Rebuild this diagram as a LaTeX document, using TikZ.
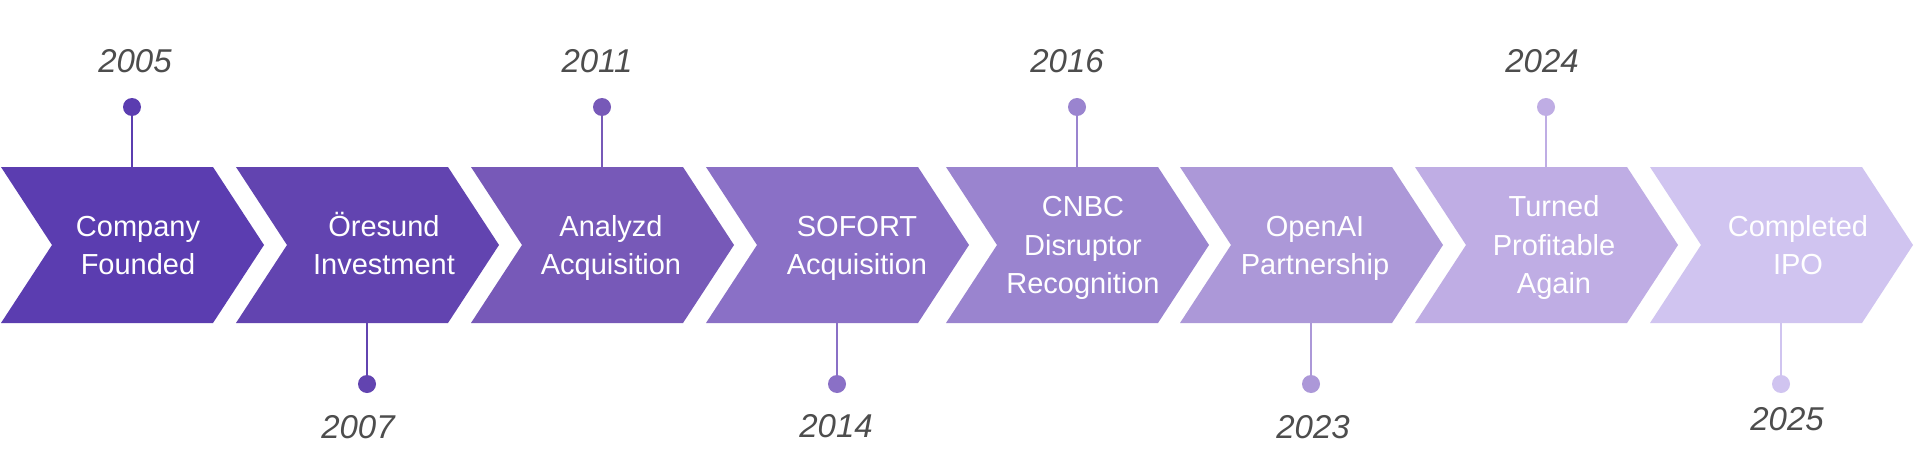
\documentclass[tikz,border=0pt]{standalone}
\usepackage{fontspec}
\setmainfont{Liberation Sans}

\begin{document}
\begin{tikzpicture}[x=1pt,y=1pt,
  dot/.style={circle,inner sep=0pt,outer sep=0pt,minimum size=18pt},
  stem/.style={line width=1.2pt},
  yearText/.style={text=yearColor,anchor=base,inner sep=0pt,outer sep=0pt,font=\fontsize{33}{38}\selectfont\itshape},
  stepText/.style={text=white,align=center,inner sep=0pt,outer sep=0pt,font=\fontsize{29}{38.5}\selectfont}]
\definecolor{fillColor}{RGB}{255,255,255}
\definecolor{yearColor}{RGB}{77,77,77}
\definecolor{stepColorA}{RGB}{91,61,176}
\definecolor{stepColorB}{RGB}{98,68,176}
\definecolor{stepColorC}{RGB}{119,89,184}
\definecolor{stepColorD}{RGB}{138,112,198}
\definecolor{stepColorE}{RGB}{154,132,207}
\definecolor{stepColorF}{RGB}{172,152,216}
\definecolor{stepColorG}{RGB}{191,173,228}
\definecolor{stepColorH}{RGB}{208,196,240}
\path[use as bounding box,fill=fillColor] (0,0) rectangle (1916,459);

% chevrons
\path[fill=stepColorA] (   1,292) -- ( 213,292) -- ( 264,214) -- ( 213,136) -- (   1,136) -- (  52,214) -- cycle;
\path[fill=stepColorB] ( 236,292) -- ( 448,292) -- ( 499,214) -- ( 448,136) -- ( 236,136) -- ( 287,214) -- cycle;
\path[fill=stepColorC] ( 471,292) -- ( 683,292) -- ( 734,214) -- ( 683,136) -- ( 471,136) -- ( 522,214) -- cycle;
\path[fill=stepColorD] ( 706,292) -- ( 918,292) -- ( 969,214) -- ( 918,136) -- ( 706,136) -- ( 757,214) -- cycle;
\path[fill=stepColorE] ( 946,292) -- (1158,292) -- (1209,214) -- (1158,136) -- ( 946,136) -- ( 997,214) -- cycle;
\path[fill=stepColorF] (1180,292) -- (1392,292) -- (1443,214) -- (1392,136) -- (1180,136) -- (1231,214) -- cycle;
\path[fill=stepColorG] (1415,292) -- (1627,292) -- (1678,214) -- (1627,136) -- (1415,136) -- (1466,214) -- cycle;
\path[fill=stepColorH] (1650,292) -- (1862,292) -- (1913,214) -- (1862,136) -- (1650,136) -- (1701,214) -- cycle;

% step labels
\node[stepText] (stepA) at ( 138,211.3) {\strut Company\\\strut Founded};
\node[stepText] (stepB) at ( 384,211.3) {\strut Öresund\\\strut Investment};
\node[stepText] (stepC) at ( 611,211.3) {\strut Analyzd\\\strut Acquisition};
\node[stepText] (stepD) at ( 857,211.3) {\strut SOFORT\\\strut Acquisition};
\node[stepText] (stepE) at (1083,211.3) {\strut CNBC\\\strut Disruptor\\\strut Recognition};
\node[stepText] (stepF) at (1315,211.3) {\strut OpenAI\\\strut Partnership};
\node[stepText] (stepG) at (1554,211.3) {\strut Turned\\\strut Profitable\\\strut Again};
\node[stepText] (stepH) at (1798,211.3) {\strut Completed\\\strut IPO};

% stems and dots
\coordinate (edgeA) at ( 132,292);
\coordinate (edgeB) at ( 367,136);
\coordinate (edgeC) at ( 602,292);
\coordinate (edgeD) at ( 837,136);
\coordinate (edgeE) at (1077,292);
\coordinate (edgeF) at (1311,136);
\coordinate (edgeG) at (1546,292);
\coordinate (edgeH) at (1781,136);

\node[dot,fill=stepColorA] (dotA) at ( 132,352) {};
\node[dot,fill=stepColorB] (dotB) at ( 367, 75) {};
\node[dot,fill=stepColorC] (dotC) at ( 602,352) {};
\node[dot,fill=stepColorD] (dotD) at ( 837, 75) {};
\node[dot,fill=stepColorE] (dotE) at (1077,352) {};
\node[dot,fill=stepColorF] (dotF) at (1311, 75) {};
\node[dot,fill=stepColorG] (dotG) at (1546,352) {};
\node[dot,fill=stepColorH] (dotH) at (1781, 75) {};

\path[draw=stepColorA,stem] (dotA) -- (edgeA);
\path[draw=stepColorB,stem] (dotB) -- (edgeB);
\path[draw=stepColorC,stem] (dotC) -- (edgeC);
\path[draw=stepColorD,stem] (dotD) -- (edgeD);
\path[draw=stepColorE,stem] (dotE) -- (edgeE);
\path[draw=stepColorF,stem] (dotF) -- (edgeF);
\path[draw=stepColorG,stem] (dotG) -- (edgeG);
\path[draw=stepColorH,stem] (dotH) -- (edgeH);

% years
\node[yearText] (yearA) at ( 135,386) {2005};
\node[yearText] (yearB) at ( 358, 21) {2007};
\node[yearText] (yearC) at ( 597,386) {2011};
\node[yearText] (yearD) at ( 836, 22) {2014};
\node[yearText] (yearE) at (1067,386) {2016};
\node[yearText] (yearF) at (1313, 21) {2023};
\node[yearText] (yearG) at (1542,386) {2024};
\node[yearText] (yearH) at (1787, 29) {2025};
\end{tikzpicture}
\end{document}
